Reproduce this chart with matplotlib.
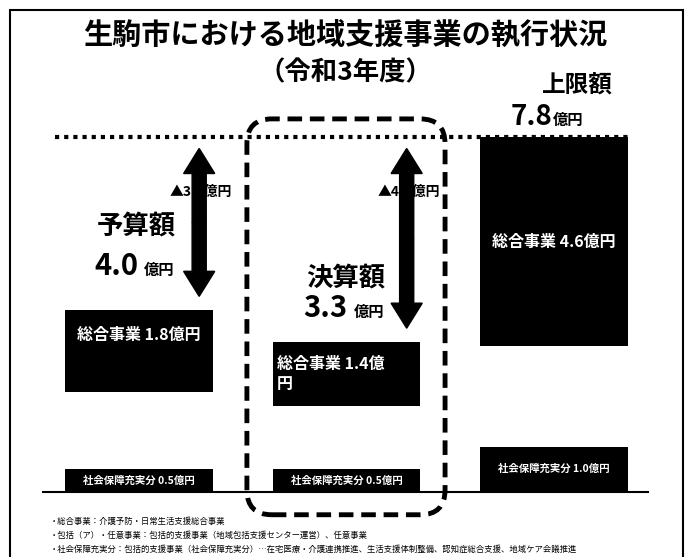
import numpy as np
import matplotlib.pyplot as plt
from matplotlib.patches import FancyBboxPatch, FancyArrow, Rectangle

plt.rcParams['font.family'] = ['Noto Sans CJK JP', 'DejaVu Sans']

# data (億円)
categories = ['予算額', '決算額', '上限額']
totals = [4.0, 3.3, 7.8]
sogo = [1.8, 1.4, 4.6]        # 総合事業
houkatsu = [1.7, 1.4, 2.2]    # 包括的支援事業・任意事業
shakai = [0.5, 0.5, 1.0]      # 社会保障充実分
upper_limit = 7.8
shortfall = [3.8, 4.5]        # 上限額との差

# pixel scale of the layout
PX, PY = 207.5, 45.5
X0, Y0 = 139, 492

fig = plt.figure(figsize=(6.91, 5.57), dpi=100)
ax = fig.add_axes([0, 0, 1, 1])
ax.set_xlim(-X0 / PX, (691 - X0) / PX)
ax.set_ylim(-(557 - Y0) / PY, Y0 / PY)
ax.axis('off')

x = np.arange(len(categories))
w = 0.71
sh = np.array(shakai)
hk = np.array(houkatsu)
sg = np.array(sogo)

ax.bar(x, sh, w, color='black', zorder=3)
ax.bar(x, hk, w, bottom=sh, color='white', zorder=2)
ax.bar(x, sg, w, bottom=sh + hk, color='black', zorder=3)

# baseline and upper limit line
ax.plot([x[0] - w / 2 - 0.11, x[-1] + w / 2 + 0.1], [0, 0], color='black', lw=1.5, zorder=4)
ax.plot([x[0] - w / 2 - 0.05, x[-1] + w / 2], [upper_limit, upper_limit],
        color='black', lw=3, ls=(0, (1, 1.2)), dash_capstyle='butt', zorder=4)

# labels inside bars
ax.text(x[0], sh[0] + hk[0] + sg[0] * 0.7, f'総合事業 {sogo[0]}億円', color='white',
        fontsize=11.5, fontweight='bold', ha='center', va='center', zorder=6)
ax.text(x[1] - w / 2 + 0.02, sh[1] + hk[1] + sg[1] / 2, f'総合事業 {sogo[1]}億\n円', color='white',
        fontsize=11.5, fontweight='bold', ha='left', va='center', linespacing=1.3, zorder=6)
ax.text(x[2], sh[2] + hk[2] + sg[2] / 2, f'総合事業 {sogo[2]}億円', color='white',
        fontsize=11.5, fontweight='bold', ha='center', va='center', zorder=6)
for i in range(3):
    ax.text(x[i], sh[i] / 2, f'社会保障充実分 {shakai[i]}億円', color='white',
            fontsize=7.5, fontweight='bold', ha='center', va='center', zorder=6)

# arrows showing the gap to the upper limit
for i in range(2):
    xa = x[i] + 0.29
    lo = totals[i] + 0.3
    hi = upper_limit - 0.25
    mid = (lo + hi) / 2
    for end in (hi, lo):
        ax.add_patch(FancyArrow(xa, mid, 0, end - mid, width=0.068, head_width=0.15,
                                head_length=0.55, length_includes_head=True,
                                color='black', zorder=5))
    ax.text(xa + 0.01, 6.6, f'▲{shortfall[i]}億円', fontsize=10, fontweight='bold',
            ha='center', va='center', zorder=4)

# big amount labels
def amount(xc, yb, name, val, ny, size=21):
    ax.text(xc, ny, name, fontsize=19, fontweight='bold', ha='center', va='center')
    ax.text(xc + 0.01, yb, f'{val}', fontsize=size, fontweight='bold', ha='right', va='baseline')
    ax.text(xc + 0.04, yb, '億円', fontsize=11, fontweight='bold', ha='left', va='baseline')

amount(x[0] - 0.015, 4.77, categories[0], totals[0], 5.85)
amount(x[1] - 0.005, 3.85, categories[1], totals[1], 4.70)
ax.text(x[2] + 0.115, 8.95, categories[2], fontsize=17, fontweight='bold', ha='center', va='center')
ax.text(x[2] - 0.01, 8.07, f'{upper_limit}', fontsize=20, fontweight='bold', ha='right', va='baseline')
ax.text(x[2] - 0.005, 8.07, '億円', fontsize=11, fontweight='bold', ha='left', va='baseline')

# dashed highlight round the actual result
ax.add_patch(FancyBboxPatch((x[1] - 0.48, -0.5), 0.955, 8.7,
                            boxstyle='round,pad=0,rounding_size=0.12', mutation_aspect=PX / PY,
                            fill=False, ec='black', lw=3.5, ls=(0, (3, 1.6)), zorder=4))

# titles
fig.text(0.5, 1 - 35 / 557, '生駒市における地域支援事業の執行状況', fontsize=21,
         fontweight='bold', ha='center', va='center')
fig.text(0.5, 1 - 73 / 557, '（令和3年度）', fontsize=19, fontweight='bold', ha='center', va='center')

# footnotes
notes = [
    '・総合事業：介護予防・日常生活支援総合事業',
    '・包括（ア）・任意事業：包括的支援事業（地域包括支援センター運営）、任意事業',
    '・社会保障充実分：包括的支援事業（社会保障充実分）…在宅医療・介護連携推進、生活支援体制整備、認知症総合支援、地域ケア会議推進',
]
for k, t in enumerate(notes):
    fig.text(50 / 691, 1 - (521 + 14 * k) / 557, t, fontsize=6, ha='left', va='center')

# frame
fig.add_artist(Rectangle((10 / 691, -0.05), 673 / 691, 1.05 - 10 / 557, fill=False,
                         ec='black', lw=1.5, transform=fig.transFigure))

fig.savefig('out.png', dpi=100)
